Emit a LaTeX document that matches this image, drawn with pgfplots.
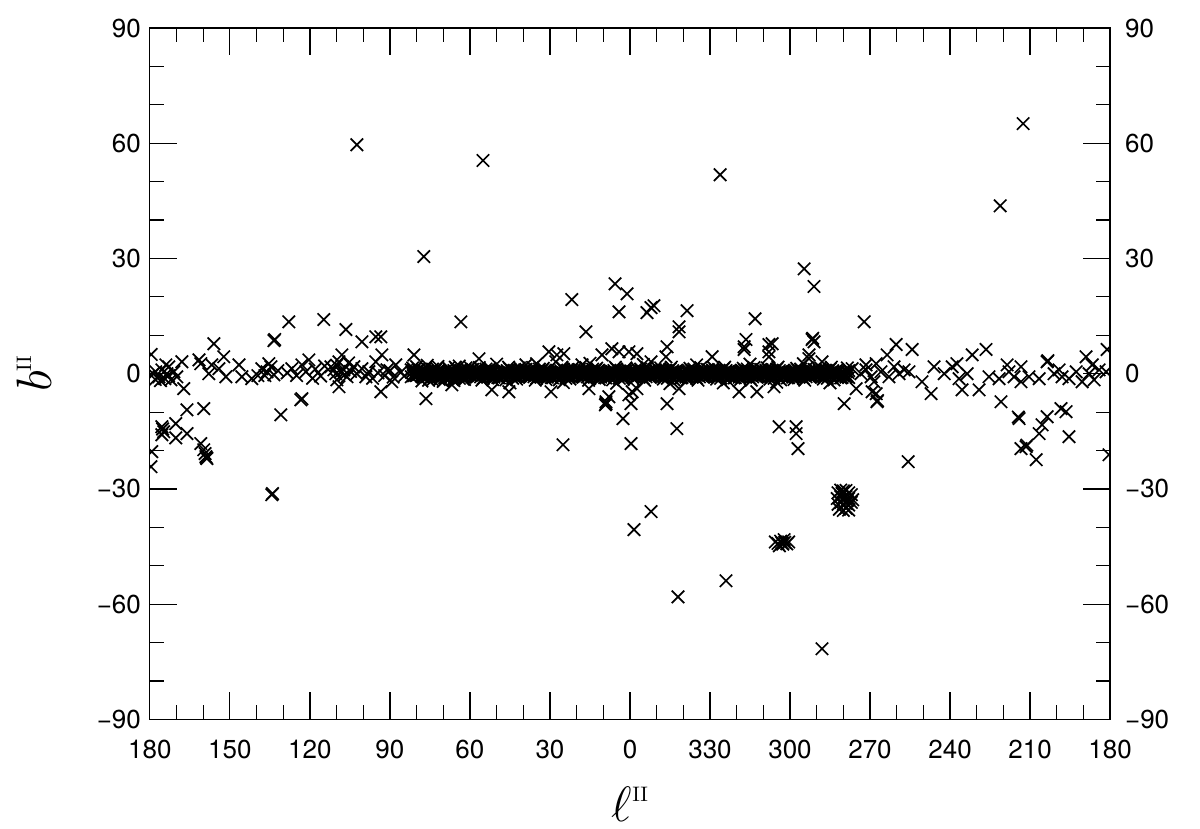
\documentclass[border=0pt]{standalone}
\usepackage{pgfplots}
\usepackage{pgfplotstable}
\usepackage{fontspec}
\pgfplotsset{compat=1.18}
\newfontfamily\tickfont{TeX Gyre Heros}

% Galactic plane band (l, b), dense overlapping sources
\pgfplotstableread[row sep=\\]{
l b\\
0 0.6\\0 -0.3\\1 -0.5\\1 0.9\\2 1.0\\2 -0.8\\3 -0.9\\3 0.4\\4 0.2\\4 -1.2\\5 -0.2\\5 1.2\\6 0.8\\6 -0.1\\7 -0.7\\7 0.5\\8 0.4\\8 -0.6\\9 -1.1\\9 0.1\\
10 -0.6\\10 0.3\\11 0.5\\11 -0.9\\12 -1.0\\12 0.8\\13 0.9\\13 -0.4\\14 -0.2\\14 1.2\\15 0.2\\15 -1.2\\16 -0.8\\16 0.1\\17 0.7\\17 -0.5\\18 -0.4\\18 0.6\\19 1.1\\19 -0.1\\
20 0.6\\20 -0.3\\21 -0.5\\21 0.9\\22 1.0\\22 -0.8\\23 -0.9\\23 0.4\\24 0.2\\24 -1.2\\25 -0.2\\25 1.2\\26 0.8\\26 -0.1\\27 -0.7\\27 0.5\\28 0.4\\28 -0.6\\29 -1.1\\29 0.1\\
30 -0.6\\30 0.3\\31 0.5\\31 -0.9\\32 -1.0\\32 0.8\\33 0.9\\33 -0.4\\34 -0.2\\34 1.2\\35 0.2\\35 -1.2\\36 -0.8\\36 0.1\\37 0.7\\37 -0.5\\38 -0.4\\38 0.6\\39 1.1\\39 -0.1\\
40 0.6\\40 -0.3\\41 -0.5\\41 0.9\\42 1.0\\42 -0.8\\43 -0.9\\43 0.4\\44 0.2\\44 -1.2\\45 -0.2\\45 1.2\\46 0.8\\46 -0.1\\47 -0.7\\47 0.5\\48 0.4\\48 -0.6\\49 -1.1\\49 0.1\\
50 -0.6\\50 0.3\\51 0.5\\51 -0.9\\52 -1.0\\52 0.8\\53 0.9\\53 -0.4\\54 -0.2\\54 1.2\\55 0.2\\55 -1.2\\56 -0.8\\56 0.1\\57 0.7\\57 -0.5\\58 -0.4\\58 0.6\\59 1.1\\59 -0.1\\
60 0.6\\60 -0.3\\61 -0.5\\61 0.9\\62 1.0\\62 -0.8\\63 -0.9\\63 0.4\\64 0.2\\64 -1.2\\65 -0.2\\65 1.2\\66 0.8\\66 -0.1\\67 -0.7\\67 0.5\\68 0.4\\68 -0.6\\69 -1.1\\69 0.1\\
70 -0.6\\70 0.3\\71 0.5\\71 -0.9\\72 -1.0\\72 0.8\\73 0.9\\73 -0.4\\74 -0.2\\74 1.2\\75 0.2\\75 -1.2\\76 -0.8\\76 0.1\\77 0.7\\77 -0.5\\78 -0.4\\78 0.6\\79 1.1\\79 -0.1\\
80 0.6\\80 -0.3\\81 -0.5\\81 0.9\\82 1.0\\82 -0.8\\
359 0.5\\359 -0.9\\358 -1.0\\358 0.8\\357 0.9\\357 -0.4\\356 -0.2\\356 1.2\\355 0.2\\355 -1.2\\354 -0.8\\354 0.1\\353 0.7\\353 -0.5\\352 -0.4\\352 0.6\\351 1.1\\351 -0.1\\
350 0.6\\350 -0.3\\349 -0.5\\349 0.9\\348 1.0\\348 -0.8\\347 -0.9\\347 0.4\\346 0.2\\346 -1.2\\345 -0.2\\345 1.2\\344 0.8\\344 -0.1\\343 -0.7\\343 0.5\\342 0.4\\342 -0.6\\341 -1.1\\341 0.1\\
340 -0.6\\340 0.3\\339 0.5\\339 -0.9\\338 -1.0\\338 0.8\\337 0.9\\337 -0.4\\336 -0.2\\336 1.2\\335 0.2\\335 -1.2\\334 -0.8\\334 0.1\\333 0.7\\333 -0.5\\332 -0.4\\332 0.6\\331 1.1\\331 -0.1\\
330 0.6\\330 -0.3\\329 -0.5\\329 0.9\\328 1.0\\328 -0.8\\327 -0.9\\327 0.4\\326 0.2\\326 -1.2\\325 -0.2\\325 1.2\\324 0.8\\324 -0.1\\323 -0.7\\323 0.5\\322 0.4\\322 -0.6\\321 -1.1\\321 0.1\\
320 -0.6\\320 0.3\\319 0.5\\319 -0.9\\318 -1.0\\318 0.8\\317 0.9\\317 -0.4\\316 -0.2\\316 1.2\\315 0.2\\315 -1.2\\314 -0.8\\314 0.1\\313 0.7\\313 -0.5\\312 -0.4\\312 0.6\\311 1.1\\311 -0.1\\
310 0.6\\310 -0.3\\309 -0.5\\309 0.9\\308 1.0\\308 -0.8\\307 -0.9\\307 0.4\\306 0.2\\306 -1.2\\305 -0.2\\305 1.2\\304 0.8\\304 -0.1\\303 -0.7\\303 0.5\\302 0.4\\302 -0.6\\301 -1.1\\301 0.1\\
300 -0.6\\300 0.3\\299 0.5\\299 -0.9\\298 -1.0\\298 0.8\\297 0.9\\297 -0.4\\296 -0.2\\296 1.2\\295 0.2\\295 -1.2\\294 -0.8\\294 0.1\\293 0.7\\293 -0.5\\292 -0.4\\292 0.6\\291 1.1\\291 -0.1\\
290 0.6\\290 -0.3\\289 -0.5\\289 0.9\\288 1.0\\288 -0.8\\287 -0.9\\287 0.4\\286 0.2\\286 -1.2\\285 -0.2\\285 1.2\\284 0.8\\284 -0.1\\283 -0.7\\283 0.5\\282 0.4\\282 -0.6\\281 -1.1\\281 0.1\\
280 -0.6\\280 0.3\\279 0.5\\279 -0.9\\278 -1.0\\278 0.8\\
0.5 0.0\\1.5 1.5\\2.5 -1.4\\3.5 0.3\\4.5 -0.4\\5.5 1.7\\6.5 -1.6\\7.5 0.9\\8.5 -0.2\\9.5 -1.0\\
10.5 0.0\\11.5 -1.5\\12.5 1.4\\13.5 -0.3\\14.5 0.4\\15.5 -1.7\\16.5 1.6\\17.5 -0.9\\18.5 0.2\\19.5 1.0\\
20.5 0.0\\21.5 1.5\\22.5 -1.4\\23.5 0.3\\24.5 -0.4\\25.5 1.7\\26.5 -1.6\\27.5 0.9\\28.5 -0.2\\29.5 -1.0\\
30.5 0.0\\31.5 -1.5\\32.5 1.4\\33.5 -0.3\\34.5 0.4\\35.5 -1.7\\36.5 1.6\\37.5 -0.9\\38.5 0.2\\39.5 1.0\\
40.5 0.0\\41.5 1.5\\42.5 -1.4\\43.5 0.3\\44.5 -0.4\\45.5 1.7\\46.5 -1.6\\47.5 0.9\\48.5 -0.2\\49.5 -1.0\\
50.5 0.0\\51.5 -1.5\\52.5 1.4\\53.5 -0.3\\54.5 0.4\\55.5 -1.7\\56.5 1.6\\57.5 -0.9\\58.5 0.2\\59.5 1.0\\
60.5 0.0\\61.5 1.5\\62.5 -1.4\\63.5 0.3\\64.5 -0.4\\65.5 1.7\\66.5 -1.6\\67.5 0.9\\68.5 -0.2\\69.5 -1.0\\
70.5 0.0\\71.5 -1.5\\72.5 1.4\\73.5 -0.3\\74.5 0.4\\75.5 -1.7\\76.5 1.6\\77.5 -0.9\\78.5 0.2\\79.5 1.0\\
80.5 0.0\\81.5 1.5\\
359.5 0.0\\358.5 -1.5\\357.5 1.4\\356.5 -0.3\\355.5 0.4\\354.5 -1.7\\353.5 1.6\\352.5 -0.9\\351.5 0.2\\350.5 1.0\\
349.5 0.0\\348.5 1.5\\347.5 -1.4\\346.5 0.3\\345.5 -0.4\\344.5 1.7\\343.5 -1.6\\342.5 0.9\\341.5 -0.2\\340.5 -1.0\\
339.5 0.0\\338.5 -1.5\\337.5 1.4\\336.5 -0.3\\335.5 0.4\\334.5 -1.7\\333.5 1.6\\332.5 -0.9\\331.5 0.2\\330.5 1.0\\
329.5 0.0\\328.5 1.5\\327.5 -1.4\\326.5 0.3\\325.5 -0.4\\324.5 1.7\\323.5 -1.6\\322.5 0.9\\321.5 -0.2\\320.5 -1.0\\
319.5 0.0\\318.5 -1.5\\317.5 1.4\\316.5 -0.3\\315.5 0.4\\314.5 -1.7\\313.5 1.6\\312.5 -0.9\\311.5 0.2\\310.5 1.0\\
309.5 0.0\\308.5 1.5\\307.5 -1.4\\306.5 0.3\\305.5 -0.4\\304.5 1.7\\303.5 -1.6\\302.5 0.9\\301.5 -0.2\\300.5 -1.0\\
299.5 0.0\\298.5 -1.5\\297.5 1.4\\296.5 -0.3\\295.5 0.4\\294.5 -1.7\\293.5 1.6\\292.5 -0.9\\291.5 0.2\\290.5 1.0\\
289.5 0.0\\288.5 1.5\\287.5 -1.4\\286.5 0.3\\285.5 -0.4\\284.5 1.7\\283.5 -1.6\\282.5 0.9\\281.5 -0.2\\280.5 -1.0\\
279.5 0.0\\278.5 1.5\\
80 1.8\\78 -1.9\\76 2.2\\74 -1.6\\72 1.9\\70 -2.0\\68 1.5\\66 -1.8\\64 2.0\\62 -1.5\\60 1.7\\
50 2.5\\45 -2.4\\35 2.6\\25 -2.3\\15 2.7\\5 -2.5\\355 2.4\\345 -2.6\\335 2.3\\325 -2.4\\315 2.5\\305 -2.2\\295 2.6\\285 -2.4\\
}\band

% Core of the band, closest to b = 0 (l, b)
\pgfplotstableread[row sep=\\]{
l b\\
0.25 0.3\\0.75 -0.1\\1.25 -0.5\\1.75 0.3\\2.25 0.1\\2.75 -0.6\\3.25 -0.2\\3.75 0.7\\4.25 0.6\\4.75 -0.3\\5.25 -0.4\\5.75 0.0\\6.25 0.0\\6.75 0.5\\7.25 0.4\\7.75 -0.8\\8.25 -0.6\\8.75 0.1\\9.25 0.2\\9.75 -0.4\\
10.25 0.3\\10.75 -0.1\\11.25 -0.5\\11.75 0.3\\12.25 0.1\\12.75 -0.6\\13.25 -0.2\\13.75 0.7\\14.25 0.6\\14.75 -0.3\\15.25 -0.4\\15.75 0.0\\16.25 0.0\\16.75 0.5\\17.25 0.4\\17.75 -0.8\\18.25 -0.6\\18.75 0.1\\19.25 0.2\\19.75 -0.4\\
20.25 0.3\\20.75 -0.1\\21.25 -0.5\\21.75 0.3\\22.25 0.1\\22.75 -0.6\\23.25 -0.2\\23.75 0.7\\24.25 0.6\\24.75 -0.3\\25.25 -0.4\\25.75 0.0\\26.25 0.0\\26.75 0.5\\27.25 0.4\\27.75 -0.8\\28.25 -0.6\\28.75 0.1\\29.25 0.2\\29.75 -0.4\\
30.25 0.3\\30.75 -0.1\\31.25 -0.5\\31.75 0.3\\32.25 0.1\\32.75 -0.6\\33.25 -0.2\\33.75 0.7\\34.25 0.6\\34.75 -0.3\\35.25 -0.4\\35.75 0.0\\36.25 0.0\\36.75 0.5\\37.25 0.4\\37.75 -0.8\\38.25 -0.6\\38.75 0.1\\39.25 0.2\\39.75 -0.4\\
40.25 0.3\\40.75 -0.1\\41.25 -0.5\\41.75 0.3\\42.25 0.1\\42.75 -0.6\\43.25 -0.2\\43.75 0.7\\44.25 0.6\\44.75 -0.3\\45.25 -0.4\\45.75 0.0\\46.25 0.0\\46.75 0.5\\47.25 0.4\\47.75 -0.8\\48.25 -0.6\\48.75 0.1\\49.25 0.2\\49.75 -0.4\\
50.25 0.3\\50.75 -0.1\\51.25 -0.5\\51.75 0.3\\52.25 0.1\\52.75 -0.6\\53.25 -0.2\\53.75 0.7\\54.25 0.6\\54.75 -0.3\\55.25 -0.4\\55.75 0.0\\56.25 0.0\\56.75 0.5\\57.25 0.4\\57.75 -0.8\\58.25 -0.6\\58.75 0.1\\59.25 0.2\\59.75 -0.4\\
60.25 0.3\\60.75 -0.1\\61.25 -0.5\\61.75 0.3\\62.25 0.1\\62.75 -0.6\\63.25 -0.2\\63.75 0.7\\64.25 0.6\\64.75 -0.3\\65.25 -0.4\\65.75 0.0\\66.25 0.0\\66.75 0.5\\67.25 0.4\\67.75 -0.8\\68.25 -0.6\\68.75 0.1\\69.25 0.2\\69.75 -0.4\\
70.25 0.3\\70.75 -0.1\\71.25 -0.5\\71.75 0.3\\72.25 0.1\\72.75 -0.6\\73.25 -0.2\\73.75 0.7\\74.25 0.6\\74.75 -0.3\\75.25 -0.4\\75.75 0.0\\76.25 0.0\\76.75 0.5\\77.25 0.4\\77.75 -0.8\\78.25 -0.6\\78.75 0.1\\79.25 0.2\\79.75 -0.4\\
80.25 0.3\\80.75 -0.1\\81.25 -0.5\\81.75 0.3\\
359.75 0.3\\359.25 -0.1\\358.75 -0.5\\358.25 0.3\\357.75 0.1\\357.25 -0.6\\356.75 -0.2\\356.25 0.7\\355.75 0.6\\355.25 -0.3\\354.75 -0.4\\354.25 0.0\\353.75 0.0\\353.25 0.5\\352.75 0.4\\352.25 -0.8\\351.75 -0.6\\351.25 0.1\\350.75 0.2\\350.25 -0.4\\
349.75 0.3\\349.25 -0.1\\348.75 -0.5\\348.25 0.3\\347.75 0.1\\347.25 -0.6\\346.75 -0.2\\346.25 0.7\\345.75 0.6\\345.25 -0.3\\344.75 -0.4\\344.25 0.0\\343.75 0.0\\343.25 0.5\\342.75 0.4\\342.25 -0.8\\341.75 -0.6\\341.25 0.1\\340.75 0.2\\340.25 -0.4\\
339.75 0.3\\339.25 -0.1\\338.75 -0.5\\338.25 0.3\\337.75 0.1\\337.25 -0.6\\336.75 -0.2\\336.25 0.7\\335.75 0.6\\335.25 -0.3\\334.75 -0.4\\334.25 0.0\\333.75 0.0\\333.25 0.5\\332.75 0.4\\332.25 -0.8\\331.75 -0.6\\331.25 0.1\\330.75 0.2\\330.25 -0.4\\
329.75 0.3\\329.25 -0.1\\328.75 -0.5\\328.25 0.3\\327.75 0.1\\327.25 -0.6\\326.75 -0.2\\326.25 0.7\\325.75 0.6\\325.25 -0.3\\324.75 -0.4\\324.25 0.0\\323.75 0.0\\323.25 0.5\\322.75 0.4\\322.25 -0.8\\321.75 -0.6\\321.25 0.1\\320.75 0.2\\320.25 -0.4\\
319.75 0.3\\319.25 -0.1\\318.75 -0.5\\318.25 0.3\\317.75 0.1\\317.25 -0.6\\316.75 -0.2\\316.25 0.7\\315.75 0.6\\315.25 -0.3\\314.75 -0.4\\314.25 0.0\\313.75 0.0\\313.25 0.5\\312.75 0.4\\312.25 -0.8\\311.75 -0.6\\311.25 0.1\\310.75 0.2\\310.25 -0.4\\
309.75 0.3\\309.25 -0.1\\308.75 -0.5\\308.25 0.3\\307.75 0.1\\307.25 -0.6\\306.75 -0.2\\306.25 0.7\\305.75 0.6\\305.25 -0.3\\304.75 -0.4\\304.25 0.0\\303.75 0.0\\303.25 0.5\\302.75 0.4\\302.25 -0.8\\301.75 -0.6\\301.25 0.1\\300.75 0.2\\300.25 -0.4\\
299.75 0.3\\299.25 -0.1\\298.75 -0.5\\298.25 0.3\\297.75 0.1\\297.25 -0.6\\296.75 -0.2\\296.25 0.7\\295.75 0.6\\295.25 -0.3\\294.75 -0.4\\294.25 0.0\\293.75 0.0\\293.25 0.5\\292.75 0.4\\292.25 -0.8\\291.75 -0.6\\291.25 0.1\\290.75 0.2\\290.25 -0.4\\
289.75 0.3\\289.25 -0.1\\288.75 -0.5\\288.25 0.3\\287.75 0.1\\287.25 -0.6\\286.75 -0.2\\286.25 0.7\\285.75 0.6\\285.25 -0.3\\284.75 -0.4\\284.25 0.0\\283.75 0.0\\283.25 0.5\\282.75 0.4\\282.25 -0.8\\281.75 -0.6\\281.25 0.1\\280.75 0.2\\280.25 -0.4\\
279.75 0.3\\279.25 -0.1\\278.75 -0.5\\278.25 0.3\\
}\bandcore

% Individual sources off the dense band (l, b)
\pgfplotstableread[row sep=\\]{
l b\\
179.5 5.0\\177.8 0.5\\176.6 -0.8\\175.5 1.0\\174.4 -1.3\\173.6 0.0\\172.9 1.8\\172.1 -1.6\\174.0 2.3\\171.0 0.5\\169.9 -0.8\\178.8 0.0\\176.0 -1.8\\178.0 -1.5\\173.0 -0.5\\
168.0 3.1\\167.3 -3.9\\161.6 3.6\\160.9 2.6\\157.9 0.0\\156.0 7.8\\156.8 2.3\\152.3 4.4\\151.5 -0.8\\154.1 1.3\\146.6 2.3\\145.5 -0.8\\141.8 -1.3\\
138.0 1.3\\136.1 0.5\\134.6 1.8\\133.5 -0.3\\136.9 -0.5\\135.4 2.6\\132.0 0.8\\139.5 -0.5\\133.5 8.6\\133.2 8.9\\
127.9 13.5\\130.9 -10.7\\123.4 -6.8\\123.0 -6.5\\126.8 1.3\\123.0 2.3\\120.4 3.6\\125.0 -0.5\\128.5 0.2\\121.5 0.5\\118.0 1.2\\116.0 -0.6\\114.5 2.0\\119.0 -1.2\\
114.8 14.1\\106.5 11.5\\100.5 8.3\\95.3 9.6\\93.4 9.6\\
112.1 1.8\\110.3 0.0\\109.1 3.1\\108.0 4.9\\107.3 1.0\\109.9 -1.6\\111.0 1.0\\106.1 -0.8\\109.1 -3.4\\108.5 0.5\\110.0 2.2\\107.0 -0.3\\104.8 0.6\\105.5 2.8\\
100.5 1.3\\95.3 3.1\\93.4 -4.7\\89.3 -2.1\\93.0 4.9\\87.8 2.3\\103.5 1.8\\102.4 0.0\\97.9 0.5\\91.1 1.0\\99.0 -0.8\\96.5 -1.2\\94.5 0.2\\92.0 -0.5\\90.0 0.8\\86.0 0.3\\84.5 -0.5\\88.8 -0.9\\
81.0 4.9\\76.5 -6.5\\66.8 -2.9\\63.4 13.5\\56.6 3.9\\51.8 -4.2\\45.4 -4.7\\39.0 2.3\\30.4 5.7\\27.4 4.9\\24.8 5.2\\29.6 -4.7\\27.8 3.1\\18.0 2.3\\15.4 -3.9\\10.5 4.9\\6.8 6.5\\4.1 5.7\\0.4 5.7\\9.0 -7.3\\7.9 -6.0\\0.4 -5.5\\
357.4 5.2\\359.2 -4.7\\357.4 -3.9\\352.1 3.1\\346.1 7.0\\346.5 4.4\\346.1 -7.8\\341.6 -3.9\\329.2 4.4\\317.2 7.0\\319.1 -4.7\\312.4 -4.7\\307.9 7.6\\307.9 4.4\\306.0 -3.4\\292.9 3.9\\291.0 8.3\\288.0 3.1\\279.7 -7.8\\276.7 1.3\\271.5 2.3\\269.2 -4.7\\
102.4 59.6\\55.1 55.5\\77.3 30.5\\326.2 51.8\\212.6 65.1\\221.2 43.7\\294.7 27.3\\291.0 22.7\\21.8 19.3\\5.6 23.4\\1.1 20.8\\4.1 16.1\\352.1 17.2\\353.6 15.9\\351.0 17.7\\338.6 16.4\\313.1 14.3\\272.2 13.5\\16.5 10.9\\341.6 12.2\\341.6 10.9\\316.5 8.9\\317.2 6.3\\306.7 7.8\\307.9 5.7\\291.7 8.9\\291.5 9.2\\292.9 4.9\\260.2 7.6\\263.6 4.9\\254.2 6.3\\226.5 6.3\\181.1 6.3\\
9.0 -7.8\\9.2 -8.1\\359.6 -7.8\\2.6 -11.7\\342.4 -14.3\\25.1 -18.5\\359.6 -18.2\\304.1 -13.8\\297.7 -13.8\\297.7 -15.6\\297.0 -19.5\\267.4 -7.3\\267.2 -7.0\\255.7 -22.9\\352.1 -35.9\\358.5 -40.6\\324.0 -53.9\\342.0 -58.1\\288.0 -71.6\\
305.5 -43.8\\304.5 -44.2\\303.5 -43.6\\302.7 -44.4\\302.0 -43.9\\301.2 -44.3\\300.5 -43.8\\304.0 -44.8\\302.2 -43.2\\303.0 -44.1\\
282.0 -31.0\\281.0 -30.3\\280.0 -30.5\\279.0 -30.4\\278.0 -31.0\\277.0 -31.5\\282.3 -32.5\\281.0 -32.0\\280.0 -32.3\\279.0 -32.0\\278.0 -32.5\\276.5 -32.8\\282.0 -34.0\\281.0 -33.5\\280.0 -34.0\\279.0 -33.7\\278.0 -34.2\\277.0 -33.5\\281.5 -35.3\\280.0 -35.6\\279.0 -35.0\\278.0 -35.5\\280.5 -31.2\\278.5 -33.0\\
179.6 -24.2\\179.3 -20.3\\166.1 -9.4\\159.8 -9.1\\175.5 -13.8\\174.8 -15.1\\175.2 -14.4\\170.3 -13.0\\175.5 -15.9\\170.3 -16.7\\166.1 -15.6\\160.9 -18.2\\159.8 -19.8\\159.0 -21.6\\158.6 -22.1\\159.3 -20.8\\158.8 -21.9\\
134.3 -31.5\\134.0 -31.2\\
214.1 -11.7\\214.4 -11.3\\211.5 -19.0\\211.2 -18.6\\213.4 -19.5\\207.7 -22.4\\206.6 -15.6\\205.5 -13.3\\203.6 -11.2\\198.4 -9.1\\196.5 -9.9\\195.4 -16.4\\180.4 -21.1\\220.9 -7.3\\
275.2 -3.9\\273.4 0.0\\271.5 1.0\\269.6 -0.8\\267.7 2.6\\265.9 0.5\\262.9 -0.8\\261.0 1.8\\259.1 0.0\\257.2 1.0\\268.5 -2.1\\267.7 -5.2\\255.4 0.5\\250.5 -2.1\\247.1 -5.2\\246.0 1.8\\
239.2 1.8\\237.4 2.6\\236.6 -1.3\\231.7 4.9\\235.5 -4.2\\229.1 -4.2\\225.4 -0.8\\221.6 -1.3\\218.6 2.3\\213.4 1.8\\210.4 -0.8\\213.4 -2.1\\203.6 3.1\\203.3 3.4\\206.6 -1.3\\198.0 -0.8\\192.7 0.5\\189.0 4.4\\186.7 2.3\\190.5 -2.1\\184.1 1.0\\181.5 0.5\\201.0 0.0\\199.1 1.0\\195.4 -1.3\\187.9 0.0\\186.0 -1.6\\217.9 0.5\\216.0 -0.8\\233.6 0.0\\242.2 0.0\\
}\stars

\begin{document}
\begin{tikzpicture}
\pgfplotsset{
  common/.style={
    scale only axis, width=480.5pt, height=346pt,
    xmin=-180, xmax=180, ymin=-90, ymax=90,
    ytick={-90,-60,...,90},
    yticklabels={−90,−60,−30,0,30,60,90},
    ticklabel style={font=\tickfont\fontsize{13}{15}\selectfont},
    major tick length=13.5pt, minor tick length=7pt,
    tick align=inside,
  },
  src/.style={only marks, mark=x, mark size=4.4pt, line width=0.85pt, black},
}
\begin{axis}[common,
  xtick={-180,-150,...,180},
  xticklabels={180,150,120,90,60,30,0,330,300,270,240,210,180},
  minor x tick num=2, minor y tick num=2,
  tick pos=both,
  every tick/.style={black, line width=0.6pt},
  axis line style={line width=0.6pt},
  clip marker paths=true,
  xticklabel style={yshift=-7pt},
  yticklabel style={xshift=-1pt},
  xlabel={\fontsize{24}{26}\selectfont$\ell$\raisebox{10pt}{\fontsize{10.5}{12}\selectfont II}},
  ylabel={\fontsize{24}{26}\selectfont$b$\raisebox{10pt}{\fontsize{10.5}{12}\selectfont II}},
  xlabel style={yshift=-7pt},
  ylabel style={yshift=16pt},
]
\addplot[src] table[x expr={\thisrow{l}>180 ? 360-\thisrow{l} : -\thisrow{l}}, y=b]{\band};
\addplot[src] table[x expr={\thisrow{l}>180 ? 360-\thisrow{l} : -\thisrow{l}}, y=b]{\bandcore};
\addplot[src] table[x expr={\thisrow{l}>180 ? 360-\thisrow{l} : -\thisrow{l}}, y=b]{\stars};
\end{axis}
\begin{axis}[common,
  xtick=\empty,
  yticklabel pos=right,
  yticklabel style={xshift=4pt},
  axis line style={draw=none},
  major tick style={draw=none},
]
\end{axis}
\pgfresetboundingbox
\path (-75pt,-54.5pt) rectangle (525.5pt,360pt);
\end{tikzpicture}
\end{document}
